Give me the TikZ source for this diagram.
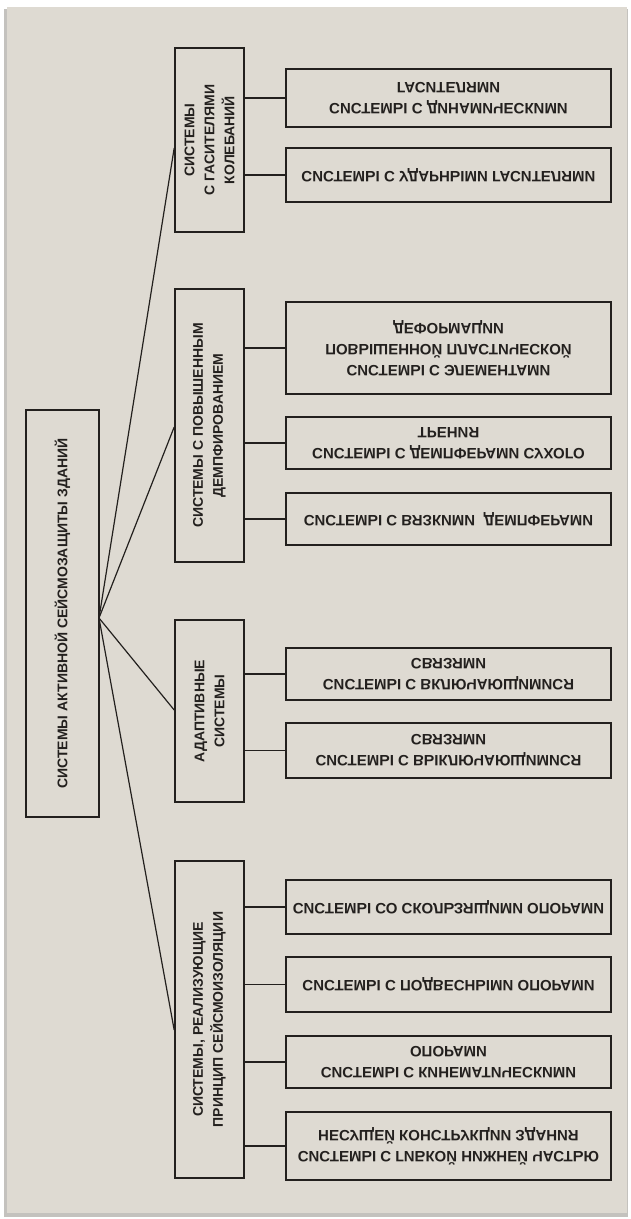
\documentclass[tikz,border=0pt]{standalone}
\usepackage{fontspec}
\setmainfont{Liberation Sans}
\usetikzlibrary{positioning}
\definecolor{panelbg}{RGB}{222,218,210}
\definecolor{panelrim}{RGB}{196,194,190}
\definecolor{ink}{RGB}{35,32,30}
\tikzset{
  box/.style={draw=ink, line width=1.6pt, inner sep=0pt, align=center, text=ink,
    font=\bfseries\fontsize{14}{20}\selectfont},
  rootbox/.style={box, rotate=90, minimum width=407pt, minimum height=73pt},
  groupbox/.style={box, rotate=90, minimum height=69pt},
  leafbox/.style={box, yscale=-1, minimum width=325pt,
    font=\bfseries\fontsize{15}{21}\selectfont},
  link/.style={draw=ink, line width=1.2pt},
}
\begin{document}
\begin{tikzpicture}[x=1pt, y=-1pt]
  \useasboundingbox (0,0) rectangle (631,1219);
  % panel
  \fill[white] (0,0) rectangle (631,1219);
  \fill[panelrim] (4,9) rectangle (628,1217);
  \fill[panelbg] (7,7) rectangle (627,1213);
  % root and groups
  \node[rootbox] (root) at (62.5,613.5) {СИСТЕМЫ АКТИВНОЙ СЕЙСМОЗАЩИТЫ ЗДАНИЙ};
  \node[groupbox, minimum width=184pt] (gas) at (209.5,140) {СИСТЕМЫ\\С ГАСИТЕЛЯМИ\\КОЛЕБАНИЙ};
  \node[groupbox, minimum width=273pt] (dmp) at (209.5,425.5) {СИСТЕМЫ С ПОВЫШЕННЫМ\\ДЕМПФИРОВАНИЕМ};
  \node[groupbox, minimum width=182pt] (adp) at (209.5,711) {АДАПТИВНЫЕ\\СИСТЕМЫ};
  \node[groupbox, minimum width=317pt] (iso) at (209.5,1019.5) {СИСТЕМЫ, РЕАЛИЗУЮЩИЕ\\ПРИНЦИП СЕЙСМОИЗОЛЯЦИИ};
  % leaves
  \node[leafbox, minimum height=58pt] (dyn) at (448.5,98) {СИСТЕМЫ С ДИНАМИЧЕСКИМИ\\ГАСИТЕЛЯМИ};
  \node[leafbox, minimum height=54pt] (udr) at (448.5,175) {СИСТЕМЫ С УДАРНЫМИ ГАСИТЕЛЯМИ};
  \node[leafbox, minimum height=92pt] (elm) at (448.5,348) {СИСТЕМЫ С ЭЛЕМЕНТАМИ\\ПОВЫШЕННОЙ ПЛАСТИЧЕСКОЙ\\ДЕФОРМАЦИИ};
  \node[leafbox, minimum height=52pt] (frc) at (448.5,443) {СИСТЕМЫ С ДЕМПФЕРАМИ СУХОГО\\ТРЕНИЯ};
  \node[leafbox, minimum height=52pt] (vsc) at (448.5,519) {СИСТЕМЫ С ВЯЗКИМИ\ \ ДЕМПФЕРАМИ};
  \node[leafbox, minimum height=52pt] (von) at (448.5,674) {СИСТЕМЫ С ВКЛЮЧАЮЩИМИСЯ\\СВЯЗЯМИ};
  \node[leafbox, minimum height=55pt] (vof) at (448.5,750.5) {СИСТЕМЫ С ВЫКЛЮЧАЮЩИМИСЯ\\СВЯЗЯМИ};
  \node[leafbox, minimum height=54pt] (sld) at (448.5,907) {СИСТЕМЫ СО СКОЛЬЗЯЩИМИ ОПОРАМИ};
  \node[leafbox, minimum height=55pt] (sus) at (448.5,984.5) {СИСТЕМЫ С ПОДВЕСНЫМИ ОПОРАМИ};
  \node[leafbox, minimum height=52pt] (kin) at (448.5,1062) {СИСТЕМЫ С КИНЕМАТИЧЕСКИМИ\\ОПОРАМИ};
  \node[leafbox, minimum height=68pt] (flx) at (448.5,1146) {СИСТЕМЫ С ГИБКОЙ НИЖНЕЙ ЧАСТЬЮ\\НЕСУЩЕЙ КОНСТРУКЦИИ ЗДАНИЯ};
  % fan from the root
  \coordinate (fan) at (99,618);
  \foreach \g/\dy in {gas/-8, dmp/-1.5, adp/1, iso/-10.5}
    \draw[link] (fan) -- ([yshift=\dy pt]\g.north);
  % stubs to the leaves
  \foreach \g/\l in {gas/dyn, gas/udr, dmp/elm, dmp/frc, dmp/vsc, adp/von, adp/vof,
                     iso/sld, iso/sus, iso/kin, iso/flx}
    \draw[link] (\g.south |- \l.west) -- (\l.west);
\end{tikzpicture}
\end{document}
